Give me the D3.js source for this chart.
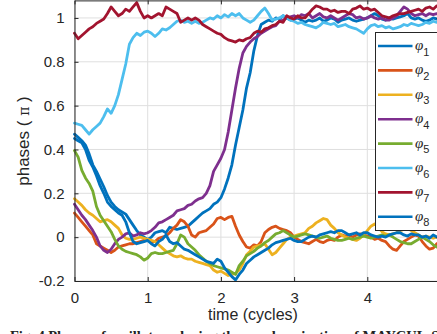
<!DOCTYPE html>
<html><head><meta charset="utf-8">
<script src="https://cdn.jsdelivr.net/npm/d3@7"></script>
<style>html,body{margin:0;padding:0;background:#fff;overflow:hidden}</style>
</head><body>
<svg id="c" width="437" height="334"></svg>
<script>
// sampling step of the traces (cycles)
const dt = 0.05;
const seriesLabels = ["1","2","3","4","5","6","7","8"];
const seriesColors = ["#0072BD","#D95319","#EDB120","#7E2F8E","#77AC30","#4DBEEE","#A2142F","#0072BD"];
const xTicks = [0,1,2,3,4,5];
const yTicks = [-0.2,0,0.2,0.4,0.6,0.8,1];
const xLabel = "time (cycles)";
const caption = "Fig. 4 Phases of oscillators during the synchronization of MAYCUL-STT";

const phi1 = [0.47,0.455,0.44,0.42,0.38,0.33,0.3,0.265,0.23,0.19,
0.16,0.14,0.125,0.115,0.105,0.08,0.055,0.03,0.01,0.0,
-0.01,0.0,0.02,0.025,0.03,0.02,0.045,0.04,0.035,0.04,
0.045,0.05,0.065,0.08,0.095,0.11,0.12,0.13,0.15,0.16,
0.18,0.22,0.27,0.33,0.42,0.5,0.58,0.68,0.75,0.85,
0.92,0.97,0.98,0.99,0.985,1.0,0.995,1.01,1.0,0.99,
0.995,1.0,0.99,0.98,0.99,0.985,0.99,1.0,0.985,0.99,
1.0,0.995,0.98,0.99,0.995,1.0,0.99,0.985,0.99,0.995,
1.0,1.01,1.02,1.01,0.995,0.99,1.0,0.995,1.0,1.005,
1.01,1.02,1.0,0.995,1.0,0.99,0.985,0.99,1.0,0.995,
0.99];
const phi2 = [0.11,0.09,0.07,0.05,0.03,0.01,-0.03,-0.04,-0.05,-0.06,
-0.07,-0.06,-0.045,-0.04,-0.035,-0.03,-0.03,-0.025,-0.02,-0.015,
-0.015,-0.02,-0.02,-0.005,0.0,0.005,0.02,0.04,0.055,0.08,
0.07,0.05,0.01,0.0,0.02,0.025,0.03,0.045,0.06,0.085,
0.09,0.08,0.09,0.095,0.05,0.01,-0.02,-0.045,-0.05,-0.035,
-0.04,-0.02,0.02,0.035,0.045,0.05,0.04,0.035,0.03,0.02,
0.0,-0.01,-0.02,-0.025,-0.03,-0.02,-0.01,-0.02,-0.025,-0.015,
-0.01,-0.015,0.0,0.01,0.005,0.01,0.0,0.01,0.015,0.01,
0.005,0.0,-0.01,-0.005,-0.015,-0.02,-0.04,-0.055,-0.06,-0.04,
-0.02,-0.01,0.0,0.01,0.005,-0.02,-0.04,-0.055,-0.05,-0.03,
-0.02];
const phi3 = [0.175,0.16,0.145,0.125,0.11,0.1,0.085,0.07,0.075,0.08,
0.07,0.055,0.04,0.01,-0.005,-0.01,-0.01,-0.005,0.0,-0.005,
-0.01,-0.015,-0.02,-0.035,-0.05,-0.065,-0.075,-0.085,-0.09,-0.085,
-0.095,-0.1,-0.1,-0.11,-0.115,-0.12,-0.125,-0.13,-0.15,-0.16,
-0.155,-0.165,-0.175,-0.17,-0.165,-0.15,-0.12,-0.08,-0.065,-0.045,
-0.04,-0.035,-0.03,-0.055,-0.08,-0.07,-0.05,-0.03,-0.01,0.0,
0.005,0.01,0.015,0.02,0.04,0.05,0.065,0.075,0.085,0.08,
0.055,0.04,0.02,0.01,0.0,-0.005,-0.01,-0.015,-0.005,0.01,
0.03,0.05,0.06,0.045,0.025,0.015,0.01,0.015,0.02,0.03,
0.035,0.04,0.03,0.02,0.01,0.0,0.005,0.0,-0.005,0.0,
0.005];
const phi4 = [0.15,0.125,0.1,0.08,0.055,0.03,0.0,-0.04,-0.06,-0.07,
-0.055,-0.03,-0.01,0.0,0.015,0.02,0.005,0.01,0.02,0.015,
0.02,0.03,0.045,0.065,0.07,0.08,0.09,0.1,0.12,0.125,
0.13,0.145,0.15,0.165,0.175,0.18,0.2,0.235,0.3,0.33,
0.36,0.4,0.48,0.58,0.68,0.77,0.84,0.87,0.89,0.905,
0.915,0.93,0.94,0.95,0.96,0.965,0.985,0.99,1.0,1.005,
1.01,1.0,1.015,1.01,1.02,1.0,1.01,1.02,1.005,1.0,
1.01,1.0,0.99,1.0,1.01,1.02,1.015,1.0,1.005,0.995,
1.0,1.01,1.0,0.995,1.0,0.99,0.99,1.0,1.01,1.03,
1.05,1.04,1.02,1.01,1.015,1.02,1.01,1.02,1.015,1.02,
1.01];
const phi5 = [0.395,0.365,0.305,0.27,0.245,0.21,0.14,0.1,0.075,0.05,
0.025,-0.01,-0.04,-0.055,-0.065,-0.07,-0.075,-0.08,-0.09,-0.105,
-0.095,-0.075,-0.07,-0.075,-0.075,-0.07,-0.065,-0.06,-0.03,0.01,
0.0,-0.03,-0.045,-0.06,-0.08,-0.095,-0.11,-0.12,-0.13,-0.135,
-0.14,-0.145,-0.15,-0.16,-0.17,-0.13,-0.11,-0.085,-0.075,-0.065,
-0.05,-0.04,-0.025,-0.015,0.0,0.015,0.02,0.03,0.02,0.01,
0.0,0.005,0.01,0.015,0.01,0.005,0.0,-0.005,0.0,0.005,
-0.005,-0.01,-0.015,-0.015,-0.01,-0.005,-0.01,-0.005,0.0,0.005,
0.0,-0.005,0.0,0.005,0.01,0.005,0.01,0.0,-0.01,-0.02,
-0.025,-0.03,-0.03,-0.02,-0.01,0.0,-0.01,-0.02,-0.035,-0.045,
-0.04];
const phi6 = [0.52,0.515,0.51,0.49,0.47,0.49,0.505,0.52,0.55,0.585,
0.565,0.6,0.65,0.72,0.79,0.88,0.91,0.93,0.92,0.935,
0.94,0.93,0.915,0.93,0.95,0.945,0.955,0.97,0.985,0.99,
0.98,0.985,0.975,0.985,0.975,0.98,0.99,1.0,0.995,1.01,
1.0,1.015,1.005,1.02,1.01,1.02,1.0,0.99,0.98,0.99,
1.01,1.03,1.045,1.02,0.99,0.995,1.0,1.01,1.0,0.99,
0.985,0.975,0.98,0.97,0.965,0.96,0.955,0.965,0.98,0.975,
0.97,0.975,0.96,0.965,0.97,0.96,0.955,0.95,0.94,0.93,
0.95,0.965,0.97,0.96,0.965,0.955,0.96,0.95,0.955,0.96,
0.97,0.965,0.975,0.97,0.965,0.97,0.98,0.975,0.985,0.98,
0.985];
const phi7 = [0.93,0.905,0.92,0.935,0.95,0.96,0.975,0.985,0.995,1.02,
1.05,1.03,1.01,1.02,1.04,1.03,1.05,1.07,1.03,1.0,
1.01,1.0,1.01,1.02,1.01,1.05,1.04,1.03,1.02,0.98,
0.99,1.0,0.99,1.0,0.99,0.97,0.96,0.95,0.94,0.93,
0.925,0.91,0.9,0.895,0.89,0.9,0.895,0.905,0.91,0.93,
0.94,0.935,0.95,0.955,0.965,0.97,0.985,0.98,1.01,1.0,
0.995,1.01,1.0,1.0,1.02,1.04,1.055,1.05,1.04,1.04,
1.03,1.035,1.025,1.03,1.03,1.02,1.04,1.045,1.055,1.04,
1.045,1.035,1.04,1.025,1.01,1.005,1.0,1.01,1.015,1.02,
1.02,1.025,1.03,1.035,1.04,1.03,1.045,1.05,1.04,1.055,
1.05];
const phi8 = [0.45,0.44,0.43,0.4,0.35,0.32,0.28,0.235,0.2,0.16,
0.14,0.125,0.11,0.1,0.07,0.02,-0.02,-0.03,-0.025,-0.02,
-0.015,-0.03,-0.04,-0.02,-0.01,0.01,-0.02,-0.03,-0.025,-0.04,
-0.055,-0.06,-0.07,-0.08,-0.09,-0.1,-0.11,-0.115,-0.12,-0.1,
-0.11,-0.14,-0.16,-0.18,-0.195,-0.17,-0.15,-0.12,-0.105,-0.09,
-0.08,-0.07,-0.06,-0.05,-0.035,-0.025,-0.02,-0.015,-0.01,-0.005,
-0.015,-0.02,-0.02,-0.01,0.0,0.005,0.0,0.01,0.015,0.02,
0.025,0.02,0.03,0.03,0.02,0.01,0.015,0.02,0.01,0.02,
0.02,0.01,0.005,0.0,0.005,0.0,0.01,0.015,0.02,0.02,
0.01,0.005,0.015,0.01,0.01,0.0,0.005,-0.005,0.01,0.0,
0.005];
const seriesValues = [phi1,phi2,phi3,phi4,phi5,phi6,phi7,phi8];

const svg = d3.select("#c");
const axisColor = "#262626";
const gridColor = "#dfdfdf";
const x = d3.scaleLinear().domain([0,5]).range([74.5,440.5]);
const y = d3.scaleLinear().domain([-0.2,1.08]).range([281,0.4]);
const fmt = d => String(+d.toFixed(1));

// grid
const grid = svg.append("g");
grid.selectAll("line.vx").data(xTicks).join("line")
  .attr("x1", d=>x(d)).attr("x2", d=>x(d)).attr("y1", y.range()[0]).attr("y2", y.range()[1])
  .attr("stroke", gridColor).attr("stroke-width",1);
grid.selectAll("line.hy").data(yTicks).join("line")
  .attr("y1", d=>y(d)).attr("y2", d=>y(d)).attr("x1", x.range()[0]).attr("x2", x.range()[1])
  .attr("stroke", gridColor).attr("stroke-width",1);

// lines
const line = d3.line().x((d,i)=>x(i*dt)).y(d=>y(d));
svg.append("g").selectAll("path").data(seriesValues).join("path")
  .attr("d", line).attr("fill","none")
  .attr("stroke",(d,i)=>seriesColors[i]).attr("stroke-width",2.8)
  .attr("stroke-linejoin","round").attr("stroke-linecap","round");

// axes
function styleAxis(g){
  g.select(".domain").attr("stroke",axisColor).attr("stroke-width",1);
  g.selectAll(".tick line").attr("stroke",axisColor).attr("stroke-width",1);
  g.selectAll(".tick text").attr("fill",axisColor).attr("font-family","'Liberation Sans', Arial, sans-serif").attr("font-size",15);
}
svg.append("g").attr("transform",`translate(0,${y(-0.2)})`)
  .call(d3.axisBottom(x).tickValues(xTicks).tickFormat(fmt).tickSizeInner(-4).tickSizeOuter(0).tickPadding(11))
  .call(styleAxis);
svg.append("g").attr("transform",`translate(0,${y.range()[1]})`)
  .call(d3.axisTop(x).tickValues(xTicks).tickFormat("").tickSizeInner(-4).tickSizeOuter(0))
  .call(styleAxis);
svg.append("g").attr("transform",`translate(${x(0)},0)`)
  .call(d3.axisLeft(y).tickValues(yTicks).tickFormat(fmt).tickSizeInner(-4).tickSizeOuter(0).tickPadding(10))
  .call(styleAxis);
svg.append("g").attr("transform",`translate(${x(5)},0)`)
  .call(d3.axisRight(y).tickValues(yTicks).tickFormat("").tickSizeInner(-4).tickSizeOuter(0))
  .call(styleAxis);

// axis labels
svg.append("text").attr("x",253).attr("y",320).attr("text-anchor","middle")
  .attr("font-family","'Liberation Sans', Arial, sans-serif").attr("font-size",16).attr("fill",axisColor)
  .text(xLabel);
const yl = svg.append("text").attr("transform","translate(29,141) rotate(-90)").attr("text-anchor","middle")
  .attr("font-family","'Liberation Sans', Arial, sans-serif").attr("font-size",17).attr("fill",axisColor);
yl.append("tspan").text("phases ( ");
yl.append("tspan").attr("font-family","'DejaVu Serif', serif").attr("font-size",14).text("π");
yl.append("tspan").text(" )");

// legend
const leg = svg.append("g");
leg.append("rect").attr("x",375.5).attr("y",32.5).attr("width",80).attr("height",198)
  .attr("fill","#fff").attr("stroke",axisColor).attr("stroke-width",1);
const items = leg.selectAll("g.item").data(seriesLabels).join("g")
  .attr("transform",(d,i)=>`translate(0,${46 + i*24.4})`);
items.append("line").attr("x1",378).attr("x2",412.5).attr("y1",0).attr("y2",0)
  .attr("stroke",(d,i)=>seriesColors[i]).attr("stroke-width",2.6);
const lt = items.append("text").attr("x",415).attr("y",4).attr("fill",axisColor);
lt.append("tspan").attr("font-family","'Liberation Serif', 'DejaVu Serif', serif").attr("font-style","italic").attr("font-size",15).text("φ");
lt.append("tspan").attr("font-family","'Liberation Sans', Arial, sans-serif").attr("font-size",11).attr("dy",5.5).text(d=>d);

// caption (cut by the bottom edge)
svg.append("text").attr("x",10).attr("y",341)
  .attr("font-family","'Liberation Serif', 'Times New Roman', serif").attr("font-weight","bold").attr("font-size",14.5).attr("fill","#222")
  .text(caption);
</script>
</body></html>
